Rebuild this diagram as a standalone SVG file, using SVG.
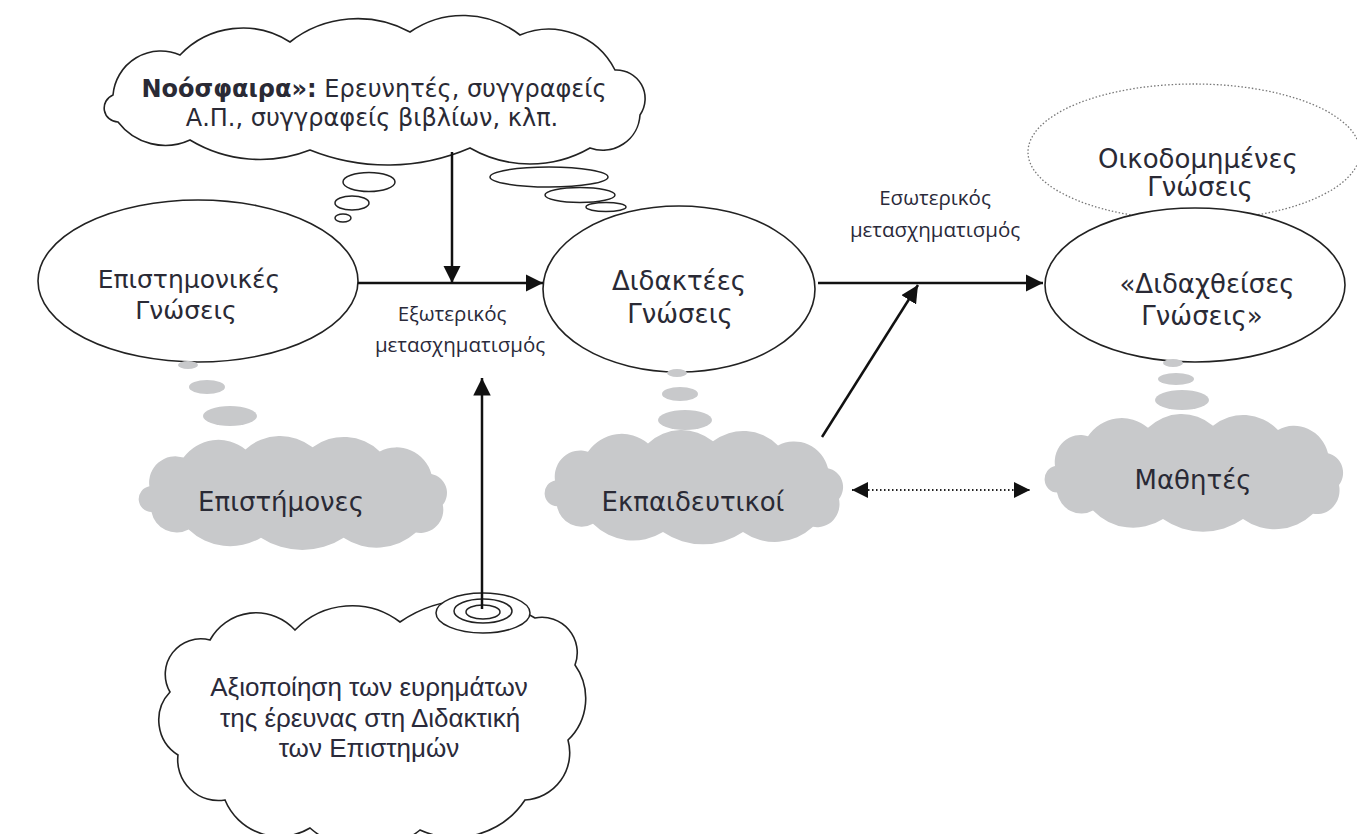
<svg xmlns="http://www.w3.org/2000/svg" width="1357" height="834" viewBox="0 0 1357 834">
<style>
.ol{fill:#fff;stroke:#222;stroke-width:1.6}
.gr{fill:#c8c9cb;stroke:none}
.bub{fill:#fff;stroke:#222;stroke-width:1.5}
.t{font-family:"DejaVu Sans",Verdana,sans-serif;fill:#2a2a35;text-anchor:middle}
.ta{font-family:"Liberation Sans",Arial,sans-serif;fill:#2a2a3a;text-anchor:middle;font-size:26px}
.lbl{font-family:"Open Sans","DejaVu Sans",sans-serif;font-size:20.5px;fill:#2a2a3a;text-anchor:middle}
.ln{stroke:#111;stroke-width:2.5;fill:none}
</style>
<defs>
<marker id="ah" viewBox="0 0 10 10" refX="10" refY="5" markerWidth="7" markerHeight="7" orient="auto" markerUnits="strokeWidth"><path d="M0,0 L10,5 L0,10 Z" fill="#111"/></marker>
<marker id="ah2" viewBox="0 0 10 10" refX="10" refY="5" markerWidth="16" markerHeight="16" orient="auto-start-reverse" markerUnits="userSpaceOnUse"><path d="M0,0 L10,5 L0,10 Z" fill="#111"/></marker>
<path id="gc" d="M12 50 A25.5 25.5 0 0 1 45 22 A41.7 41.7 0 0 1 105 14 A50 50 0 0 1 170 12 A50 50 0 0 1 235 16 A35 35 0 0 1 285 38 A18.7 18.7 0 0 1 296 68 A22.5 22.5 0 0 1 270 95 A57 57 0 0 1 200 100 A72.7 72.7 0 0 1 120 100 A57.8 57.8 0 0 1 50 92 A24.8 24.8 0 0 1 14 75 A12.6 12.6 0 0 1 12 50 Z"/>
</defs>
<rect width="1357" height="834" fill="#fff"/>

<g id="noosfaira">
<path class="ol" d="M113 95 A48 48 0 0 1 180 55 A86.7 86.7 0 0 1 290 42 A109.7 109.7 0 0 1 410 32 A93 93 0 0 1 520 35 A74 74 0 0 1 615 70 A28.7 28.7 0 0 1 640 115 A37.4 37.4 0 0 1 590 148 A120.5 120.5 0 0 1 470 148 A208 208 0 0 1 310 150 A136 136 0 0 1 190 140 A59.4 59.4 0 0 1 118 122 A14 14 0 0 1 113 95 Z"/>
<text class="t" x="374" y="97" font-size="24"><tspan font-weight="bold">Νοόσφαιρα»:</tspan> Ερευνητές, συγγραφείς</text>
<text class="t" x="372" y="126" font-size="24">Α.Π., συγγραφείς βιβλίων, κλπ.</text>
<ellipse class="bub" cx="369" cy="182" rx="26" ry="9.5"/>
<ellipse class="bub" cx="352" cy="203" rx="17" ry="7"/>
<ellipse class="bub" cx="343" cy="218" rx="8" ry="4"/>
<ellipse class="bub" cx="549" cy="177" rx="59" ry="10"/>
<ellipse class="bub" cx="580" cy="195" rx="35" ry="7.5"/>
<ellipse class="bub" cx="606" cy="207" rx="20" ry="4.5"/>
</g>

<g id="epistimonikes">
<ellipse class="ol" cx="198" cy="281" rx="160" ry="81"/>
<text class="t" x="189" y="288" font-size="25">Επιστημονικές</text>
<text class="t" x="186" y="319" font-size="25">Γνώσεις</text>
</g>

<g id="didaktees">
<ellipse class="ol" cx="679" cy="289" rx="136" ry="83"/>
<text class="t" x="679" y="290" font-size="26">Διδακτέες</text>
<text class="t" x="680" y="323" font-size="26">Γνώσεις</text>
</g>

<g id="oikodomimenes">
<ellipse cx="1194" cy="152" rx="166" ry="68" fill="none" stroke="#777" stroke-width="1.3" stroke-dasharray="1.5 2"/>
<text class="t" x="1198" y="168" font-size="26">Οικοδομημένες</text>
<text class="t" x="1200" y="196" font-size="26">Γνώσεις</text>
</g>

<g id="didaxtheises">
<ellipse class="ol" cx="1195" cy="285" rx="150" ry="77"/>
<text class="t" x="1207" y="293" font-size="26">«Διδαχθείσες</text>
<text class="t" x="1202" y="325" font-size="26">Γνώσεις»</text>
</g>

<g id="epistimones">
<ellipse class="gr" cx="188" cy="365" rx="10" ry="4"/>
<ellipse class="gr" cx="207" cy="387" rx="18" ry="7"/>
<ellipse class="gr" cx="230" cy="416" rx="27" ry="10"/>
<use href="#gc" class="gr" transform="translate(137,435) scale(1.033,1.027)"/>
<text class="t" x="281" y="511" font-size="26">Επιστήμονες</text>
</g>

<g id="ekpaideftikoi">
<ellipse class="gr" cx="677" cy="373" rx="10" ry="4"/>
<ellipse class="gr" cx="680" cy="394" rx="18" ry="7"/>
<ellipse class="gr" cx="685" cy="420" rx="27" ry="10"/>
<use href="#gc" class="gr" transform="translate(543,429) scale(1.0,1.03)"/>
<text class="t" x="693" y="511" font-size="26">Εκπαιδευτικοί</text>
</g>

<g id="mathites">
<ellipse class="gr" cx="1173" cy="363" rx="10" ry="4"/>
<ellipse class="gr" cx="1176" cy="379" rx="18" ry="6"/>
<ellipse class="gr" cx="1182" cy="400" rx="27" ry="10"/>
<use href="#gc" class="gr" transform="translate(1043,413) scale(1.0,1.06)"/>
<text class="t" x="1193" y="489" font-size="26">Μαθητές</text>
</g>

<g id="axiopoiisi">
<path class="ol" d="M170 692 A35.5 35.5 0 0 1 210 640 A52.6 52.6 0 0 1 295 630 A79 79 0 0 1 400 622 A124 124 0 0 1 535 618 A35.3 35.3 0 0 1 575 665 A57.6 57.6 0 0 1 568 740 A47.4 47.4 0 0 1 525 800 A84.5 84.5 0 0 1 420 830 A85.6 85.6 0 0 1 310 828 A59 59 0 0 1 225 800 A40.6 40.6 0 0 1 178 755 A41.1 41.1 0 0 1 170 692 Z"/>
<ellipse class="bub" cx="483" cy="613" rx="47" ry="20"/>
<ellipse class="bub" cx="483" cy="611" rx="29" ry="12"/>
<ellipse class="bub" cx="483" cy="612" rx="17" ry="7"/>
<text class="ta" x="369" y="696">Αξιοποίηση των ευρημάτων</text>
<text class="ta" x="370" y="727">της έρευνας στη Διδακτική</text>
<text class="ta" x="369" y="757">των Επιστημών</text>
</g>

<g id="connectors">
<line class="ln" x1="358" y1="283" x2="543" y2="283" marker-end="url(#ah)"/>
<line class="ln" x1="452" y1="152" x2="452" y2="283" marker-end="url(#ah)"/>
<line class="ln" x1="482" y1="609" x2="482" y2="378" marker-end="url(#ah)"/>
<line class="ln" x1="818" y1="283" x2="1043" y2="283" marker-end="url(#ah)"/>
<line class="ln" x1="822" y1="437" x2="918" y2="285" marker-end="url(#ah)"/>
<line x1="852" y1="490" x2="1030" y2="490" stroke="#222" stroke-width="2" stroke-dasharray="1.5 2.5" marker-start="url(#ah2)" marker-end="url(#ah2)"/>
<text class="lbl" x="452" y="321">Εξωτερικός</text>
<text class="lbl" x="460" y="352">μετασχηματισμός</text>
<text class="lbl" x="935" y="205">Εσωτερικός</text>
<text class="lbl" x="935" y="237">μετασχηματισμός</text>
</g>
</svg>
